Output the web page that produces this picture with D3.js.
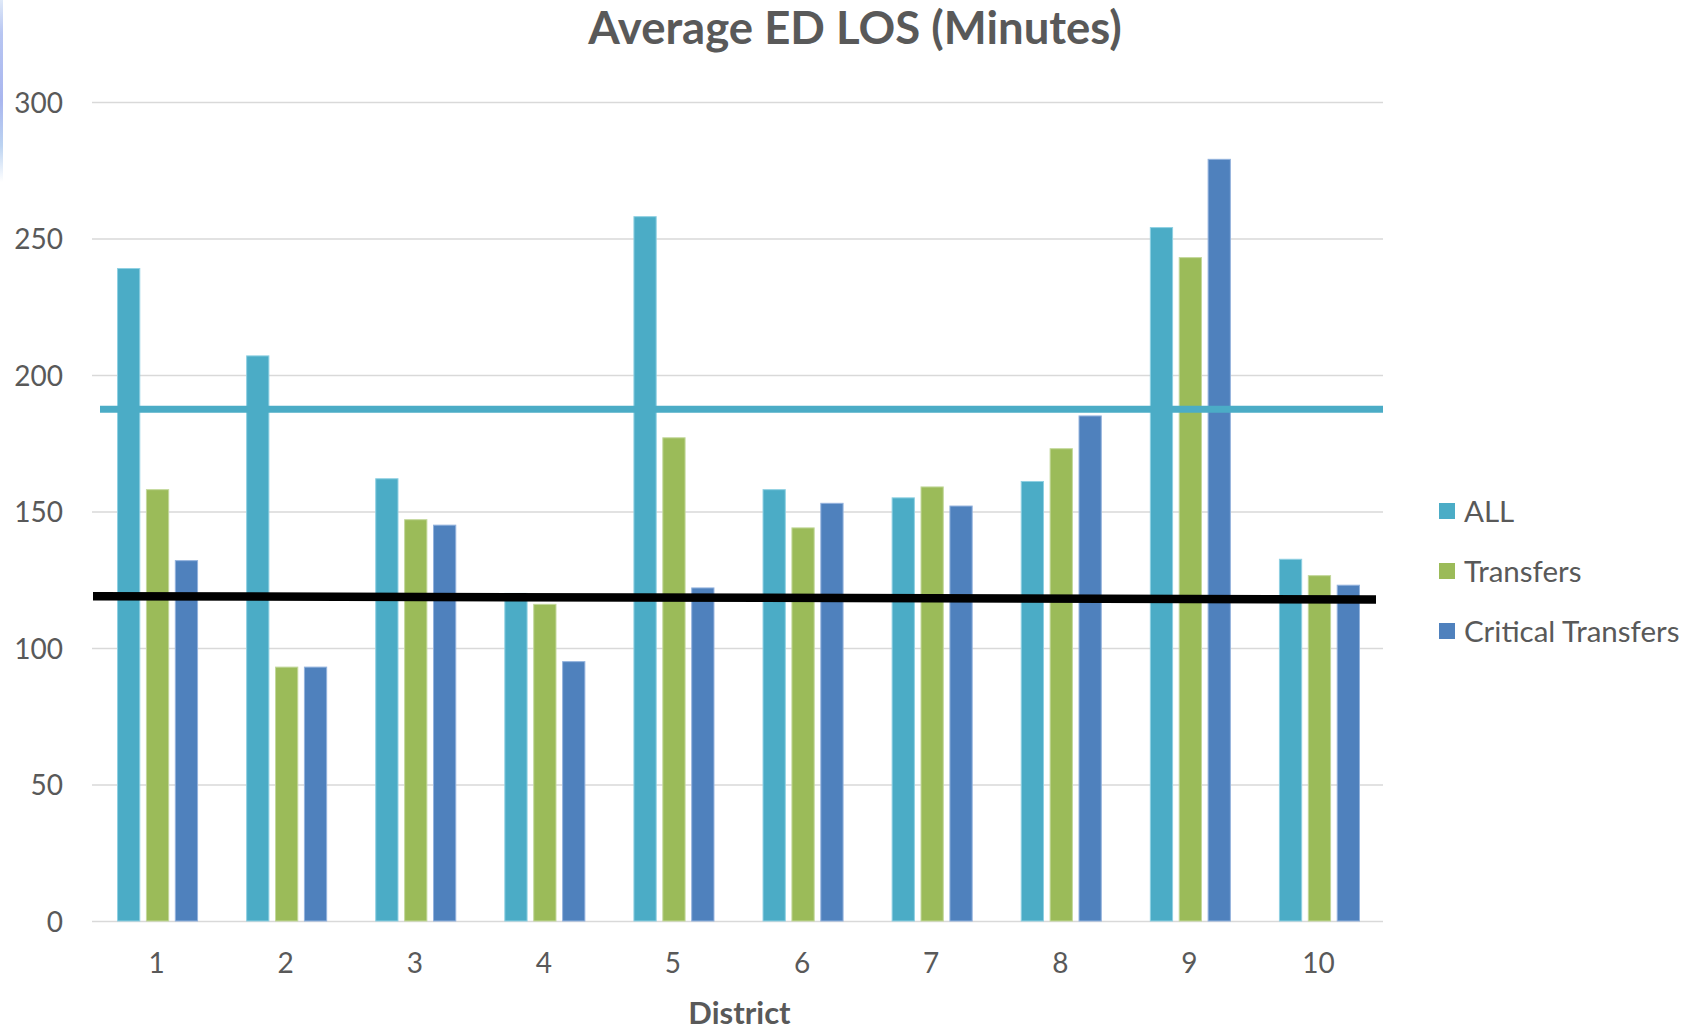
<!DOCTYPE html>
<html>
<head>
<meta charset="utf-8">
<script src="https://cdn.jsdelivr.net/npm/d3@7/dist/d3.min.js"></script>
<style>
  html, body { margin: 0; padding: 0; background: #ffffff; }
  svg { display: block; }
  text { font-family: Lato, "Open Sans", "Noto Sans", sans-serif; fill: #595959; }
</style>
</head>
<body>
<svg id="chart" width="1694" height="1030"></svg>
<script>
// Districts and series values (minutes)
const districts = ["1", "2", "3", "4", "5", "6", "7", "8", "9", "10"];
const seriesNames = ["ALL", "Transfers", "Critical Transfers"];
const allValues = [239, 207, 162, 120, 258, 158, 155, 161, 254, 132.5];
const transfersValues = [158, 93, 147, 116, 177, 144, 159, 173, 243, 126.5];
const criticalValues = [132, 93, 145, 95, 122, 153, 152, 185, 279, 123];
const yTicks = [0, 50, 100, 150, 200, 250, 300];

// Horizontal reference lines
const averageAll = 187.5;              // cyan line
const baselineLine = [119, 117.8];     // black line, left and right ends

const seriesColors = {
  "ALL": "#4BACC6",
  "Transfers": "#9BBB59",
  "Critical Transfers": "#4F81BD"
};
const seriesEdge = {
  "ALL": "#8fd0e2",
  "Transfers": "#c3d89b",
  "Critical Transfers": "#93b2dd"
};

const svg = d3.select("#chart");

// Faint bluish strip on the left edge
const defs = svg.append("defs");
const grad = defs.append("linearGradient")
  .attr("id", "edgeStrip").attr("x1", 0).attr("y1", 0).attr("x2", 0).attr("y2", 1);
grad.append("stop").attr("offset", "0%").attr("stop-color", "#dfe9f8");
grad.append("stop").attr("offset", "18%").attr("stop-color", "#b8c6f2");
grad.append("stop").attr("offset", "55%").attr("stop-color", "#a9b6ef");
grad.append("stop").attr("offset", "80%").attr("stop-color", "#bcd3f1");
grad.append("stop").attr("offset", "100%").attr("stop-color", "#ffffff");
svg.append("rect").attr("x", 0).attr("y", 0).attr("width", 3).attr("height", 182)
  .attr("fill", "url(#edgeStrip)");

const plot = { left: 92, right: 1383, top: 102, bottom: 921 };

const y = d3.scaleLinear().domain([0, 300]).range([plot.bottom, plot.top]);

const x0 = d3.scaleBand().domain(districts).range([plot.left, plot.right])
  .paddingInner(0).paddingOuter(0);
const groupWidth = x0.bandwidth() * 0.62;
const x1 = d3.scaleBand().domain(seriesNames).range([0, groupWidth])
  .paddingInner(0.23).paddingOuter(0);
const groupOffset = (x0.bandwidth() - groupWidth) / 2 + 1;

// Y axis with gridlines
const yAxis = svg.append("g")
  .attr("transform", `translate(${plot.left},0)`)
  .call(d3.axisLeft(y).tickValues(yTicks).tickFormat(d3.format("d"))
    .tickSize(-(plot.right - plot.left)).tickPadding(29));
yAxis.select(".domain").remove();
yAxis.selectAll(".tick line").attr("stroke", "#d9d9d9").attr("stroke-width", 1.5);
yAxis.selectAll(".tick text")
  .style("font-size", "28px").attr("fill", "#595959").attr("dy", "0.36em");

// X axis labels
const xAxis = svg.append("g")
  .attr("transform", `translate(0,${plot.bottom})`)
  .call(d3.axisBottom(x0).tickSize(0));
xAxis.select(".domain").remove();
xAxis.selectAll(".tick text")
  .style("font-size", "28px").attr("fill", "#595959")
  .attr("y", 52).attr("dy", 0);

// Bars
const rows = districts.map((d, i) => ({
  district: d,
  values: [
    { key: "ALL", value: allValues[i] },
    { key: "Transfers", value: transfersValues[i] },
    { key: "Critical Transfers", value: criticalValues[i] }
  ]
}));

const groups = svg.append("g").selectAll("g")
  .data(rows).join("g")
  .attr("transform", d => `translate(${x0(d.district) + groupOffset},0)`);

groups.selectAll("rect")
  .data(d => d.values).join("rect")
  .attr("x", d => x1(d.key))
  .attr("y", d => y(d.value))
  .attr("width", x1.bandwidth())
  .attr("height", d => y(0) - y(d.value))
  .attr("fill", d => seriesColors[d.key])
  .attr("stroke", d => seriesEdge[d.key])
  .attr("stroke-width", 1);

// Cyan average line
svg.append("line")
  .attr("x1", 100).attr("x2", plot.right)
  .attr("y1", y(averageAll)).attr("y2", y(averageAll))
  .attr("stroke", "#4BACC6").attr("stroke-width", 7);

// Black reference line
svg.append("line")
  .attr("x1", 93).attr("x2", 1376)
  .attr("y1", y(baselineLine[0])).attr("y2", y(baselineLine[1]))
  .attr("stroke", "#000000").attr("stroke-width", 8.5);

// Title
svg.append("text")
  .attr("x", 855).attr("y", 44)
  .attr("text-anchor", "middle")
  .style("font-size", "45.5px").style("font-weight", "bold")
  .text("Average ED LOS (Minutes)");

// X axis title
svg.append("text")
  .attr("x", (plot.left + plot.right) / 2 + 2).attr("y", 1024)
  .attr("text-anchor", "middle")
  .style("font-size", "31px").style("font-weight", "bold")
  .text("District");

// Legend
const legend = svg.append("g").selectAll("g")
  .data(seriesNames).join("g")
  .attr("transform", (d, i) => `translate(1439,${511 + i * 60})`);
legend.append("rect")
  .attr("x", 0).attr("y", -8).attr("width", 16).attr("height", 16)
  .attr("fill", d => seriesColors[d]);
legend.append("text")
  .attr("x", 25).attr("y", 0).attr("dy", "0.36em")
  .style("font-size", "29.5px")
  .text(d => d);
</script>
</body>
</html>
